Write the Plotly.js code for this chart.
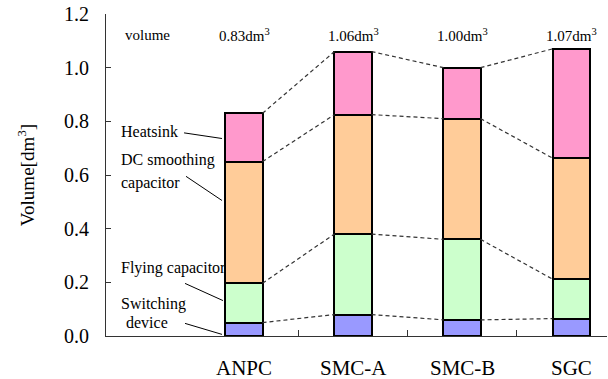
<!DOCTYPE html>
<html>
<head>
<meta charset="utf-8">
<script src="https://cdn.plot.ly/plotly-3.0.1.min.js"></script>
<style>html,body{margin:0;padding:0;background:#fff;}#chart{width:608px;height:379px;}</style>
</head>
<body>
<div id="chart"></div>
<script>
// ---- data ----
const categories = ['ANPC', 'SMC-A', 'SMC-B', 'SGC'];
const componentNames = ['Switching device', 'Flying capacitor', 'DC smoothing capacitor', 'Heatsink'];
const switchingDevice = [0.05, 0.08, 0.06, 0.065];
const flyingCapacitor = [0.147, 0.30, 0.30, 0.147];
const dcCapacitor = [0.453, 0.445, 0.45, 0.451];
const heatsink = [0.18, 0.235, 0.19, 0.407];
const yTickValues = [0, 0.2, 0.4, 0.6, 0.8, 1.0, 1.2];
const volumeLabel = 'volume';
const unitText = 'dm<sup>3</sup>';

// ---- build ----
const FONT = 'Times New Roman';
const series = [switchingDevice, flyingCapacitor, dcCapacitor, heatsink];
const colors = ['#9999FF', '#CCFFCC', '#FFCC99', '#FF99CC'];
const xPos = categories.map((c, i) => i + 1);
const BW = 0.34;

const traces = series.map((vals, k) => ({
  type: 'bar', x: xPos, y: vals, width: BW, name: componentNames[k],
  marker: {color: colors[k], line: {color: '#000', width: 2}},
  hoverinfo: 'skip'
}));

// cumulative tops
const cum = [];
let run = categories.map(() => 0);
series.forEach(vals => {
  run = run.map((r, i) => r + vals[i]);
  cum.push(run.slice());
});
const totals = cum[cum.length - 1];

// dashed connectors between consecutive bars
cum.forEach(level => {
  const xs = [], ys = [];
  for (let i = 0; i < categories.length - 1; i++) {
    xs.push(xPos[i] + BW / 2, xPos[i + 1] - BW / 2, null);
    ys.push(level[i], level[i + 1], null);
  }
  traces.push({type: 'scatter', mode: 'lines', x: xs, y: ys, showlegend: false,
    line: {color: '#333', width: 1.2, dash: '4px,3px'}, hoverinfo: 'skip', cliponaxis: false});
});

const annotations = [];
// volume row
annotations.push({xref: 'x', yref: 'y', x: 0.119, y: 1.12, text: volumeLabel, showarrow: false,
  font: {family: FONT, size: 15, color: '#000'}});
totals.forEach((t, i) => {
  annotations.push({xref: 'x', yref: 'y', x: xPos[i], y: 1.12, text: t.toFixed(2) + unitText,
    showarrow: false, font: {family: FONT, size: 15, color: '#000'}});
});
// category labels
categories.forEach((c, i) => {
  annotations.push({xref: 'x', yref: 'paper', x: xPos[i], y: -0.1, yanchor: 'middle', text: c,
    showarrow: false, font: {family: FONT, size: 21, color: '#000'}});
});
// component labels (left side)
const lbl = (text, x, y) => annotations.push({xref: 'x', yref: 'y', x: x, y: y, xanchor: 'left',
  yanchor: 'middle', text: text, showarrow: false, font: {family: FONT, size: 16, color: '#000'}});
lbl('Heatsink', -0.145, 0.762);
lbl('DC smoothing', -0.145, 0.655);
lbl('capacitor', -0.145, 0.57);
lbl('Flying capacitor', -0.145, 0.252);
lbl('Switching', -0.145, 0.118);
lbl('device', -0.1, 0.05);

const shapes = [
  [0.450, 0.757, 0.798, 0.736],
  [0.468, 0.595, 0.798, 0.505],
  [0.459, 0.196, 0.807, 0.132],
  [0.459, 0.047, 0.798, 0.006]
].map(s => ({type: 'line', xref: 'x', yref: 'y', x0: s[0], y0: s[1], x1: s[2], y1: s[3],
  line: {color: '#000', width: 1}}));

const layout = {
  width: 608, height: 379,
  margin: {l: 106, r: 1, t: 14, b: 43},
  paper_bgcolor: '#fff', plot_bgcolor: '#fff',
  barmode: 'stack', showlegend: false,
  font: {family: FONT, color: '#000'},
  xaxis: {range: [-0.266, 4.33], showline: true, linecolor: '#333', linewidth: 1,
    ticks: 'inside', ticklen: 6, tickcolor: '#333', tickmode: 'array',
    tickvals: [1.5, 2.5, 3.5, 4.325], showticklabels: false, showgrid: false, zeroline: false},
  yaxis: {range: [0, 1.2], showline: true, linecolor: '#333', linewidth: 1,
    ticks: 'inside', ticklen: 5, tickcolor: '#333', tickmode: 'array', tickvals: yTickValues,
    tickformat: '.1f', tickfont: {family: FONT, size: 20, color: '#000'}, ticklabelstandoff: 12,
    showgrid: false, zeroline: false,
    title: {text: 'Volume[dm<sup>3</sup>]', font: {family: FONT, size: 19, color: '#000'}, standoff: 24}},
  annotations: annotations,
  shapes: shapes
};

Plotly.newPlot('chart', traces, layout, {displayModeBar: false, staticPlot: true});
</script>
</body>
</html>
